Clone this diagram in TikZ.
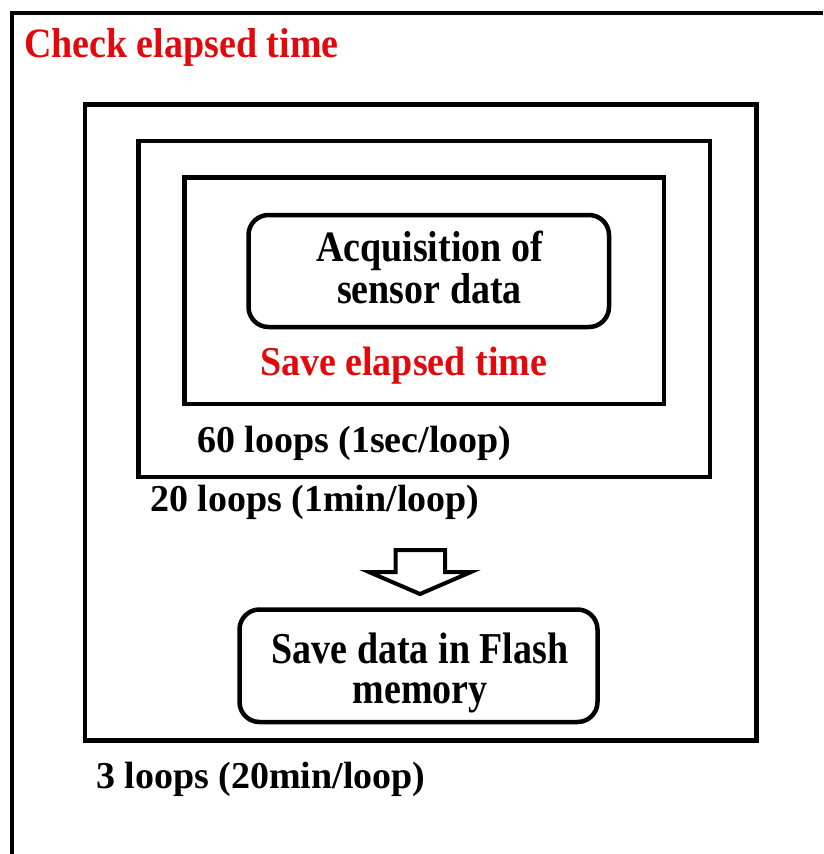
\documentclass[tikz,border=0pt]{standalone}
\usepackage{fontspec}
\setmainfont{Liberation Serif}
\definecolor{lblred}{RGB}{226,8,12}
\newcommand\vstr[2]{\scalebox{1}[#1]{#2}}
\begin{document}
\begin{tikzpicture}[x=1pt,y=-1pt,
  frame/.style={draw=black, line width=4.5pt},
  loopbox/.style={frame, rectangle, inner sep=0pt, outer sep=0pt},
  roundbox/.style={loopbox, rounded corners=20pt},
  lbl/.style={inner sep=0pt, outer sep=0pt, font=\fontsize{38}{38}\selectfont\bfseries},
  redlbl/.style={lbl, text=lblred}
]
\useasboundingbox (0,0) rectangle (823,854);
% outermost loop frame (cut off at right and bottom)
\coordinate (ob) at (12,854);
\coordinate (otl) at (12,13);
\coordinate (otr) at (823,13);
\draw[frame] (ob) -- (otl) -- (otr);
% nested loop boxes
\node[loopbox, minimum width=671.5pt, minimum height=636pt] (b20) at (420.75,422.5) {};
\node[loopbox, minimum width=571.7pt, minimum height=336pt] (b60) at (424.15,309) {};
\node[loopbox, minimum width=479.7pt, minimum height=226.5pt] (b1s) at (424.15,290.75) {};
\node[roundbox, minimum width=360.5pt, minimum height=112pt] (acq) at (428.75,271) {};
\node[roundbox, minimum width=358pt, minimum height=112.5pt] (flash) at (418.5,665.75) {};
% block arrow
\draw[frame, line width=4pt, line join=miter] (395.5,550) -- (445,550) -- (445,572) -- (471,572) -- (420,594) -- (369,572) -- (395.5,572) -- cycle;
% texts
\node[redlbl, anchor=base west] (check) at (24,57) {\vstr{1.1}{Check elapsed time}};
\node[lbl, anchor=base] (acq1) at (429.5,261) {\vstr{1.14}{Acquisition of}};
\node[lbl, anchor=base] (acq2) at (429.5,303) {\vstr{1.14}{sensor data}};
\node[redlbl, anchor=base west] (savet) at (260,375) {\vstr{1.08}{Save elapsed time}};
\node[lbl, anchor=base west] (l60) at (197,452) {60 loops (1sec/loop)};
\node[lbl, anchor=base west] (l20) at (150,511) {20 loops (1min/loop)};
\node[lbl, anchor=base] (fl1) at (420,663) {\vstr{1.16}{Save data in Flash}};
\node[lbl, anchor=base] (fl2) at (420,703) {\vstr{1.16}{memory}};
\node[lbl, anchor=base west] (l3) at (96,788) {3 loops (20min/loop)};
\end{tikzpicture}
\end{document}
